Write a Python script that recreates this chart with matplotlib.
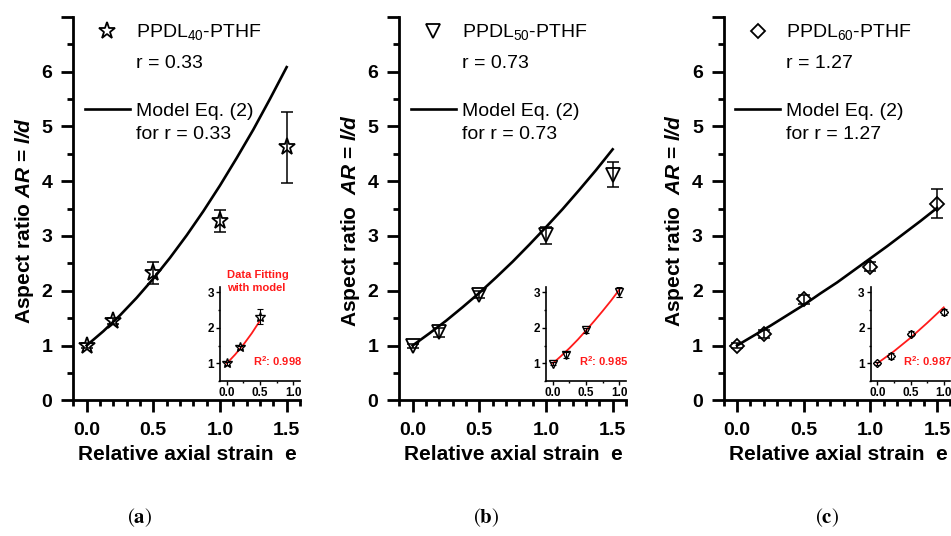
import matplotlib
matplotlib.use("Agg")
import matplotlib.pyplot as plt
from matplotlib.lines import Line2D
from matplotlib.ticker import MultipleLocator

# strain levels of the measurements
strain = [0.0, 0.2, 0.5, 1.0, 1.5]

# aspect ratio AR = l/d with error bars
ar_40 = [1.0, 1.45, 2.32, 3.27, 4.62]
err_40 = [0.05, 0.05, 0.20, 0.20, 0.65]
ar_50 = [0.99, 1.24, 1.93, 3.01, 4.12]
err_50 = [0.04, 0.08, 0.06, 0.15, 0.23]
ar_60 = [1.0, 1.21, 1.84, 2.44, 3.59]
err_60 = [0.05, 0.08, 0.08, 0.08, 0.26]

# model Eq. (2) curves
model_strain = [0.0, 0.125, 0.25, 0.375, 0.5, 0.625, 0.75, 0.875, 1.0, 1.125, 1.25, 1.375, 1.5]
model_40 = [1.0, 1.26, 1.55, 1.87, 2.22, 2.60, 3.01, 3.45, 3.92, 4.42, 4.94, 5.50, 6.08]
model_50 = [1.0, 1.22, 1.45, 1.70, 1.96, 2.24, 2.53, 2.84, 3.16, 3.49, 3.84, 4.20, 4.58]
model_60 = [1.0, 1.18, 1.36, 1.55, 1.74, 1.95, 2.15, 2.37, 2.59, 2.81, 3.04, 3.27, 3.51]

# red fits shown in the insets
fit_strain_40 = [0.0, 0.125, 0.25, 0.375, 0.5]
fit_40 = [1.0, 1.25, 1.53, 1.85, 2.21]
fit_strain = [0.0, 0.125, 0.25, 0.375, 0.5, 0.625, 0.75, 0.875, 1.0]
fit_50 = [1.0, 1.21, 1.43, 1.67, 1.93, 2.20, 2.48, 2.77, 3.08]
fit_60 = [1.0, 1.17, 1.34, 1.53, 1.72, 1.93, 2.14, 2.36, 2.58]

samples = ["40", "50", "60"]
r_values = ["0.33", "0.73", "1.27"]
r2_values = ["0.998", "0.985", "0.987"]
panel_names = ["a", "b", "c"]

plt.rcParams["font.family"] = ["Liberation Sans", "DejaVu Sans"]
plt.rcParams["font.weight"] = "bold"
plt.rcParams["mathtext.fontset"] = "custom"
plt.rcParams["mathtext.rm"] = "Liberation Sans:weight=normal"
plt.rcParams["mathtext.it"] = "Liberation Sans:italic:weight=normal"
plt.rcParams["mathtext.bf"] = "Liberation Sans:weight=bold"
plt.rcParams["mathtext.bfit"] = "Liberation Sans:italic:weight=bold"

W, H = 951, 536
fig = plt.figure(figsize=(W / 100, H / 100), dpi=100)

ax_lefts = [73.3, 399.3, 723.7]
ax_w = 226.7
ax_top = 16.7
ax_bottom = 400.3


def draw_panel(left, ar, err, model, fit_e, fit_ar, n_inset, marker, ms, inset_ms,
               sample, r, r2, ylabel, note=False):
    ax = fig.add_axes([left / W, (H - ax_bottom) / H, ax_w / W, (ax_bottom - ax_top) / H])
    for s in ["top", "right"]:
        ax.spines[s].set_visible(False)
    for s in ["left", "bottom"]:
        ax.spines[s].set_linewidth(2.0)

    line, = ax.plot(model_strain, model, color="black", lw=1.9, zorder=2)
    ax.errorbar(strain, ar, yerr=err, fmt="none", ecolor="black", elinewidth=1.1,
                capsize=4.5, capthick=1.1, zorder=3)
    pts, = ax.plot(strain, ar, linestyle="none", marker=marker, ms=ms, mfc="none",
                   mec="black", mew=1.3, zorder=4)

    ax.set_xlim(-0.1, 1.6)
    ax.set_ylim(0, 7)
    ax.set_xticks([0, 0.5, 1.0, 1.5])
    ax.set_xticklabels(["0.0", "0.5", "1.0", "1.5"])
    ax.set_yticks(range(8))
    ax.set_yticklabels([str(i) for i in range(7)] + [""])
    ax.xaxis.set_minor_locator(MultipleLocator(0.1))
    ax.yaxis.set_minor_locator(MultipleLocator(0.5))
    ax.tick_params(which="major", direction="out", length=8.5, width=2.0, labelsize=14)
    ax.tick_params(axis="x", which="major", pad=7)
    ax.tick_params(axis="y", which="major", pad=6.5)
    ax.tick_params(which="minor", direction="out", length=4.5, width=2.0)

    ax.set_xlabel("Relative axial strain  e", fontsize=15, fontweight="bold")
    ax.xaxis.set_label_coords(0.505, -0.117)
    ax.set_ylabel(ylabel, fontsize=15, fontweight="bold")
    ax.yaxis.set_label_coords(-0.165, 0.468)

    blank = Line2D([], [], color="none")
    font = {"size": 14, "weight": "normal"}
    leg1 = ax.legend([pts, blank], ["PPDL$_{\\mathrm{%s}}$-PTHF" % sample, "r = %s" % r],
                     loc="upper left", bbox_to_anchor=(0.051, 0.985), frameon=False,
                     prop=font, handlelength=2.31, handletextpad=0.31, borderpad=0,
                     borderaxespad=0, labelspacing=0.6)
    ax.add_artist(leg1)
    ax.legend([line, blank], ["Model Eq. (2)", "for r = %s" % r],
              loc="upper left", bbox_to_anchor=(0.051, 0.777), frameon=False,
              prop=font, handlelength=2.31, handletextpad=0.31, borderpad=0,
              borderaxespad=0, labelspacing=0.3)

    # inset with the fit
    ins = ax.inset_axes([0.648, 0.05, 0.352, 0.245])
    for s in ["top", "right"]:
        ins.spines[s].set_visible(False)
    for s in ["left", "bottom"]:
        ins.spines[s].set_linewidth(1.2)
    ins.plot(fit_e, fit_ar, color="#ff1a1a", lw=1.3, zorder=2)
    ins.errorbar(strain[:n_inset], ar[:n_inset], yerr=err[:n_inset], fmt="none",
                 ecolor="black", elinewidth=0.8, capsize=2.2, capthick=0.8, zorder=3)
    ins.plot(strain[:n_inset], ar[:n_inset], linestyle="none", marker=marker,
             ms=inset_ms, mfc="none", mec="black", mew=1.0, zorder=4)
    ins.set_xlim(-0.1, 1.1)
    ins.set_ylim(0.5, 3.15)
    ins.set_xticks([0, 0.5, 1.0])
    ins.set_xticklabels(["0.0", "0.5", "1.0"])
    ins.set_yticks([1, 2, 3])
    ins.xaxis.set_minor_locator(MultipleLocator(0.25))
    ins.yaxis.set_minor_locator(MultipleLocator(0.5))
    ins.tick_params(which="major", direction="out", length=2.8, width=1.0, labelsize=8.5, pad=1.5)
    ins.tick_params(which="minor", direction="out", length=1.6, width=1.0)
    ins.text(0.41, 0.21, "R$^{\\mathbf{2}}$: %s" % r2, transform=ins.transAxes,
             color="#ff1a1a", fontsize=8, fontweight="bold", ha="left", va="center")
    if note:
        ins.text(0.08, 1.18, "Data Fitting\nwith model", transform=ins.transAxes,
                 color="#ff1a1a", fontsize=8, fontweight="bold", ha="left", va="top",
                 linespacing=1.35)
    return ax


draw_panel(ax_lefts[0], ar_40, err_40, model_40, fit_strain_40, fit_40, 3, "*", 12.5, 7.5,
           samples[0], r_values[0], r2_values[0],
           "Aspect ratio $\\mathbfit{AR}$ = $\\mathbfit{l/d}$", note=True)
draw_panel(ax_lefts[1], ar_50, err_50, model_50, fit_strain, fit_50, 4, "v", 10.5, 6.0,
           samples[1], r_values[1], r2_values[1],
           "Aspect ratio  $\\mathbfit{AR}$ = $\\mathbfit{l/d}$")
draw_panel(ax_lefts[2], ar_60, err_60, model_60, fit_strain, fit_60, 4, "D", 7.6, 4.3,
           samples[2], r_values[2], r2_values[2],
           "Aspect ratio  $\\mathbfit{AR}$ = $\\mathbfit{l/d}$")

label_x = [140, 486, 827]
for x, name in zip(label_x, panel_names):
    fig.text(x / W, (H - 518) / H, "($\\mathbf{%s}$)" % name, family="STIXGeneral",
             math_fontfamily="stix", fontsize=15, fontweight="normal",
             ha="center", va="center")

fig.savefig("out.png", dpi=100, facecolor="white")
